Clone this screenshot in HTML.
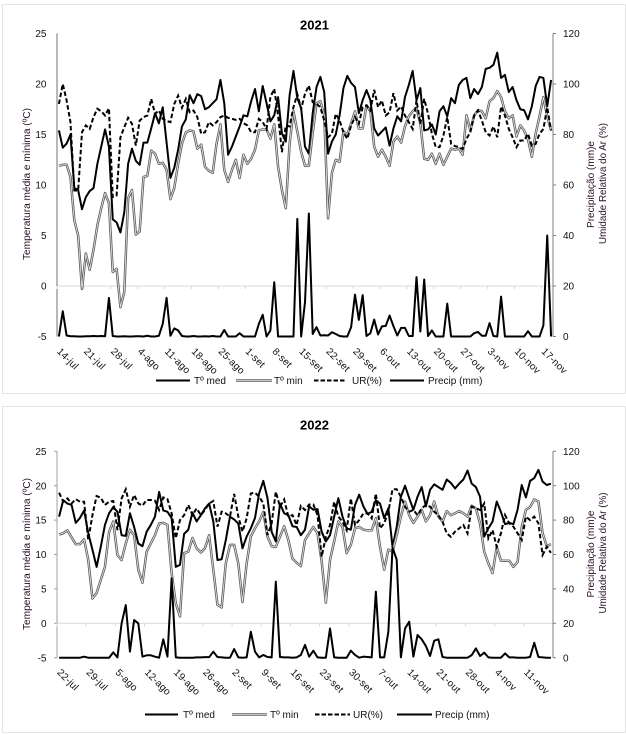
<!DOCTYPE html>
<html lang="pt">
<head>
<meta charset="utf-8">
<title>Temperatura, umidade e precipitação 2021 e 2022</title>
<style>
html,body{margin:0;padding:0;background:#fff;}
body{width:626px;height:734px;overflow:hidden;}
svg{display:block;font-family:"Liberation Sans",sans-serif;}
</style>
</head>
<body>
<svg id="root" xmlns="http://www.w3.org/2000/svg" width="626" height="734" viewBox="0 0 626 734">
  <rect x="2.5" y="4.5" width="623" height="389" fill="#fff" stroke="#e4e4e4" stroke-width="1"/>
  <rect x="2.5" y="406.5" width="623" height="326" fill="#fff" stroke="#e4e4e4" stroke-width="1"/>
  <g id="chart21"></g>
  <g id="chart22"></g>
</svg>
<script>
const leftTicks = [25, 20, 15, 10, 5, 0, -5];
const rightTicks = [120, 100, 80, 60, 40, 20, 0];

const dateLabels21 = ["14-jul","21-jul","28-jul","4-ago","11-ago","18-ago","25-ago","1-set","8-set","15-set","22-set","29-set","6-out","13-out","20-out","27-out","3-nov","10-nov","17-nov"];
const tmed21 = [15.4,13.7,14.1,15,9.7,9.5,7.6,8.8,9.4,9.7,12.1,13.8,15.5,13.8,6.6,6.3,5.3,7.3,12.1,13.6,12.4,12,14.2,14.2,15.6,17.1,16.1,17.7,14.2,10.7,11.7,13.5,15.8,16.5,18.9,18.1,19,18.8,17.5,17.7,18.1,18.5,20.4,18.1,13,13.8,14.8,15.8,16.9,16.8,18.3,19.5,17.3,19.8,18.1,16.3,16.9,18.7,15.1,14.3,18.9,21.3,18.6,17.6,13.8,13.1,17.1,19.7,20.7,19.2,13.1,14.3,15,16.9,19.6,20.8,20.1,19.7,17.1,18.4,19.4,18.4,15.6,14.9,15.3,15.7,13.9,15.6,16.8,16.3,18.7,19.9,21.3,18.4,19.6,15.4,15.5,16,15,17.3,17.8,16.8,18.6,18.1,19.9,20.4,20.6,18.6,19.5,19,19.7,21.5,21.6,21.9,23.1,20.6,20.9,19.2,19.7,18.4,17.5,17.4,16.5,17.8,19.8,20.7,20.6,17.8,20.4];
const tmin21 = [11.9,12,12,10.8,6.5,5,-0.3,3.2,1.6,3.6,6,7.7,9.2,8.2,1.4,1.7,-2.1,-0.6,8.7,9.5,5.1,5.4,10.8,10.9,13.4,13.1,12.1,12.2,11.5,8.6,9.7,12.1,14.1,15.2,15.4,15.3,13.6,14,11.8,11.4,11.2,14.1,16,11.5,10.3,11.5,12.5,10.7,13,12.1,12.6,13.5,15.4,15.5,15.5,14.6,16,11.8,9.5,7.7,14.1,17.3,15.3,13.3,11.9,11.9,15.1,18.1,18.3,16.9,6.7,11.2,12.5,12.3,15.3,15,16.1,17.3,15.6,15.6,17.9,17.3,13.8,12.8,13.5,12.8,11.9,14.3,14.8,14.2,15.8,16.8,17.3,17.6,16.1,12.6,12.5,13.1,12.1,13.1,12,12.8,13.6,13.5,13.6,13,16.9,15.4,16.9,17.4,17.3,16.6,18.3,18.6,19.3,18.7,17.3,16.6,16.9,14.8,15.9,15.4,14.5,12.8,15.1,16.8,18.7,16.8,15.4];
const ur21 = [92.1,100,93.5,84.9,57.8,57.8,80.9,83.6,82.2,86.9,90.2,89.2,87.5,90.4,55.2,55.8,78.9,82.9,86.6,84.2,75.6,85.5,86.9,87.5,94.1,88.2,89.5,86.2,85.3,84.9,92.1,95.4,90.6,94.1,88.8,89.5,86.9,80.3,80.9,84.9,83.6,84.9,86.9,87.5,86.6,86.2,85.8,86.2,84.5,83.6,80.9,80.9,86.2,84.9,82.2,94.8,98.1,87.5,73,83.6,83.2,90.8,96,90.2,96.1,99.4,92.8,92.1,90.8,85.5,78.9,80.3,88.2,85.5,80.9,78.3,83.6,86.9,84.2,90.8,91.5,89.5,97.7,90.8,93.5,87.5,88.8,96.4,89.5,91.1,87.5,84.9,82.2,93.5,84.2,94.1,88.2,80.3,75,75,79.6,86.9,76.3,75.4,75,74.3,78.3,80.9,87.5,89.5,85.5,80.9,79.6,83.2,78.9,91.1,87.5,82.2,78.9,75,77.6,77.6,80.3,75.6,76.3,80.3,82.2,90.8,81.6];
const precip21 = [0,10,0.4,0.1,0.1,0,0,0.1,0.1,0.2,0.1,0.2,0.1,15.3,0.2,0,0,0.1,0,0,0.1,0.1,0,0.3,0,0,0.3,5,15.3,0.3,3.2,2.4,0.2,0,0,0.2,0,0,0.1,0,0.2,0,0,2.6,0,0,0,1.3,0,0,0,0,5,8.6,0,2.4,21.5,0,0,0,0,0,46.6,0,13.6,48.7,1,3.7,0.4,0.5,0.4,1.7,1,0.2,0,0,3.7,16.6,6.6,16.4,0.2,1.3,6.7,0.8,4,4.2,8.3,4.1,0.4,3.4,3.4,0.2,0.2,23.5,2,22.6,0.2,2.4,0,0,0,13,0,0,0,0,0,0,1.3,1.8,0.3,0.3,5.3,0.2,0,15.8,0,0,0,0,0,0,2.1,0,0,0,4.4,40,0];

const dateLabels22 = ["22-jul","29-jul","5-ago","12-ago","19-ago","26-ago","2-set","9-set","16-set","23-set","30-set","7-out","14-out","21-out","28-out","4-nov","11-nov"];
const tmed22 = [15.5,17.9,17.4,17.2,14.6,15.3,16.4,13.1,10.7,8.2,11.1,14.3,16,16.9,16.2,12.8,12.7,16,14,11.6,11.2,13.3,14.3,15.5,19.1,16.4,16.2,15.3,8.2,8.5,13,13.6,16.1,14.8,15.7,16.7,17.4,14.8,9.2,9.3,12.1,15.5,15.1,14.5,10.9,12.6,13.8,15.3,18.9,20.7,18.2,13.3,11.9,17.4,16,15.7,14.1,14,12.8,13.6,17,16.5,16.6,13.3,11.9,12.8,15.5,18.2,15.5,13.8,13.6,17.2,18.7,17,15.9,16.2,17.9,17.4,15.3,16.7,11.1,14,18.4,20,18.2,16.5,18.4,19.8,17,19.4,20.2,19.8,19.4,20.9,20.4,19.6,20.3,20.9,22.2,20.3,19.8,18.4,12.6,13.8,14.8,17.7,16.2,14.4,14.6,14.4,16.5,20.1,18.3,20.7,21.1,22.3,20.6,20.1,20.3];
const tmin22 = [12.9,13.1,13.5,12.5,11.5,11.5,12.2,9.2,3.6,4.4,6.3,8.2,13.3,14.8,9.9,9.2,11.6,13.6,12.8,7.8,5.9,10.4,11.6,12.8,14.5,14.6,14.3,7.3,2.9,1,10.2,10.4,12.4,10.9,10.3,10.9,12.8,7.8,2.7,2.3,8.7,11.4,11.4,8.7,3.1,8.7,12.6,13.8,14.8,16.2,12.6,11.2,11.1,12.6,14.1,12.1,9.4,8.8,8.3,12.1,13.1,14,13.1,9,3,9.2,11.9,14.8,14,10.2,11.4,13.8,14,13.6,13.5,13.5,15.3,11.1,7.8,10.7,10.4,12.8,15.5,17.7,15.7,14.6,15.5,16.5,14.8,15.7,17.7,15.5,14.8,16.3,15.7,16,16.3,16,15.5,17.1,16.7,14.5,10.4,8.7,7.3,11.1,9.1,9.1,9.1,8.2,8.9,14,16.5,16.9,18,17.7,13.1,11.2,11.5];
const ur22 = [95.9,90.7,92.6,89.7,92.2,90.7,90.7,68.4,82.9,94,93,88.8,90.7,91.1,74.2,92.6,97.9,87.8,94.6,89.7,88.4,91.7,91.7,91.3,85.9,93.2,92.2,83.9,69.4,80,82.9,88.8,82.9,86.8,82.9,85.9,89.7,91.1,76.2,84.9,83.9,82,95.2,82,73.3,81,95.5,95.9,93.6,89.7,71.3,78.1,96.5,87.8,92,82,82.9,77.1,88.2,85.9,89.1,89.1,82.9,58.7,70.3,77.1,90.7,82,79.1,74.2,92.6,77.1,80,83.9,83.9,81,95.5,75.2,78.1,84.9,97.9,97.9,93.6,87.8,84.9,85.9,82.9,86.8,88.8,87.8,84.9,82.9,79.1,72.3,70.3,73.3,75.2,77.1,72.3,87.8,86.8,85.9,89.7,69.4,74.2,64.5,72.3,82.9,78.1,76.2,72.3,68.4,82,80,82,78.1,59.7,64.5,61];
const precip22 = [0,0,0,0,0,0,0.6,0,0,0,0,0,0,3.1,0.2,20,30.6,3.5,21.9,20,0.6,1.4,1.4,0.6,0,10.7,0.6,46.1,0.2,0,0,0,0,0.2,0.2,0.3,0.3,3.5,0.4,0.2,0,0,5,0.2,0,0.2,15.1,3.5,0.2,1.6,0.4,0.2,44.2,0.4,0.2,0.2,0,0.2,1.6,7.4,0.6,4.1,0.2,0,0,17,0.2,0,0,0,4.1,1.6,0,0.6,0.4,0.2,38.4,0.2,0.2,15.1,64,57,0.2,17,20.9,0.6,13.2,10.7,6.8,1,9.9,10.7,0.4,0,0,0,0,0,0,1.5,5.4,1,2.9,0.2,0,0,0,2.5,0.2,0.2,0,0,0,0.4,8.7,0.4,0.2,0,0];

const NS = 'http://www.w3.org/2000/svg';
const TEXT_COLOR = '#111';
const TITLE_COLOR = '#2a1028';

function make(parent, tag, attrs, text) {
  const el = document.createElementNS(NS, tag);
  for (const k in attrs) el.setAttribute(k, attrs[k]);
  if (text !== undefined) el.textContent = text;
  parent.appendChild(el);
  return el;
}

function drawChart(g, geo, year, dates, tmed, tmin, ur, precip) {
  const n = tmed.length;
  const xAt = i => geo.x0 + (i + 0.5) * (geo.x1 - geo.x0) / n;
  const yTemp = v => geo.yBottom - (v + 5) / 30 * (geo.yBottom - geo.yTop);
  const yRight = v => geo.yBottom - v / 120 * (geo.yBottom - geo.yTop);
  const linePath = (vals, yFn) => vals.map((v, i) => (i ? 'L' : 'M') + xAt(i).toFixed(2) + ' ' + yFn(v).toFixed(2)).join('');

  const title = make(g, 'text', {x: 314.5, y: geo.titleY, 'text-anchor': 'middle', 'font-size': 13, 'font-weight': 'bold', fill: '#000'}, String(year));
  
  

  const zeroAxis = make(g, 'line', {x1: geo.x0, x2: geo.x1, y1: yTemp(0), y2: yTemp(0), stroke: '#d9d9d9', 'stroke-width': 1});
  
  

  const leftAxis = make(g, 'line', {x1: geo.x0, x2: geo.x0, y1: geo.yTop, y2: geo.yBottom, stroke: geo.leftColor, 'stroke-width': 1});
  
  

  const rightAxis = make(g, 'line', {x1: geo.x1, x2: geo.x1, y1: geo.yTop, y2: geo.yBottom, stroke: '#808080', 'stroke-width': 1});
  
  

  leftTicks.forEach(t => {
    const y = yTemp(t);
    if (geo.leftTickLen) {
      const mark = make(g, 'line', {x1: geo.x0 - geo.leftTickLen, x2: geo.x0, y1: y, y2: y, stroke: geo.leftColor, 'stroke-width': 1});
      
      
    }
    const lab = make(g, 'text', {x: 46.5, y: y + 3.6, 'text-anchor': 'end', 'font-size': 10, fill: TEXT_COLOR}, String(t));
    
    
  });

  rightTicks.forEach(t => {
    const y = yRight(t);
    const mark = make(g, 'line', {x1: geo.x1, x2: geo.x1 + 3, y1: y, y2: y, stroke: '#808080', 'stroke-width': 1});
    
    
    const lab = make(g, 'text', {x: 563, y: y + 3.6, 'font-size': 10, fill: TEXT_COLOR}, String(t));
    
    
  });

  dates.forEach((d, k) => {
    const i = k * 7;
    const tickX = geo.x0 + k * 7 * (geo.x1 - geo.x0) / n;
    const mark = make(g, 'line', {x1: tickX, x2: tickX, y1: yTemp(0), y2: yTemp(0) + 3, stroke: '#d9d9d9', 'stroke-width': 1});
    
    
    const lx = xAt(i) - 2.5;
    const lab = make(g, 'text', {x: lx, y: geo.labelY, 'font-size': 10, fill: TEXT_COLOR, 'letter-spacing': '0.2', transform: 'rotate(45 ' + lx + ' ' + geo.labelY + ')'}, d);
    
    
  });

  const tmed_ = make(g, 'path', {d: linePath(tmed, yTemp), fill: 'none', stroke: '#000', 'stroke-width': 2, 'stroke-linejoin': 'round'});
  
  

  const tminOuter = make(g, 'path', {d: linePath(tmin, yTemp), fill: 'none', stroke: '#5e5e5e', 'stroke-width': 2.5, 'stroke-linejoin': 'round'});
  
  

  const tminInner = make(g, 'path', {d: linePath(tmin, yTemp), fill: 'none', stroke: '#e8e8e8', 'stroke-width': 0.8, 'stroke-linejoin': 'round'});
  
  

  const urLine = make(g, 'path', {d: linePath(ur, yRight), fill: 'none', stroke: '#000', 'stroke-width': 2, 'stroke-dasharray': '4.5 2.5'});
  
  

  const precipLine = make(g, 'path', {d: linePath(precip, yRight), fill: 'none', stroke: '#000', 'stroke-width': 2, 'stroke-linejoin': 'round'});
  
  

  const cy = (geo.titleYAxisTop + geo.titleYAxisBottom) / 2;
  const leftTitle = make(g, 'text', {x: 0, y: 0, transform: 'translate(30 ' + cy + ') rotate(-90)', 'text-anchor': 'middle', 'font-size': 10.5, fill: TITLE_COLOR, textLength: geo.leftTitleLen, lengthAdjust: 'spacingAndGlyphs'}, 'Temperatura média e mínima (ºC)');
  
  

  const rt1 = make(g, 'text', {x: 0, y: 0, transform: 'translate(594 ' + geo.precipTitleCy + ') rotate(-90)', 'text-anchor': 'middle', 'font-size': 10.5, fill: TITLE_COLOR, textLength: 87, lengthAdjust: 'spacingAndGlyphs'}, 'Precipitação (mm)e');
  
  

  const rt2 = make(g, 'text', {x: 0, y: 0, transform: 'translate(606 ' + geo.urTitleCy + ') rotate(-90)', 'text-anchor': 'middle', 'font-size': 10.5, fill: TITLE_COLOR, textLength: 121, lengthAdjust: 'spacingAndGlyphs'}, 'Umidade Relativa do Ar (%)');
  
  

  const ly = geo.legendY;
  const l = geo.legend;
  const k1 = make(g, 'line', {x1: l[0], x2: l[1], y1: ly, y2: ly, stroke: '#000', 'stroke-width': 2});
  
  
  const t1 = make(g, 'text', {x: l[2], y: ly + 3.6, 'font-size': 10, fill: TEXT_COLOR}, 'Tº med');
  
  

  const k2 = make(g, 'line', {x1: l[3], x2: l[4], y1: ly, y2: ly, stroke: '#5e5e5e', 'stroke-width': 2.5});
  
  
  const k2b = make(g, 'line', {x1: l[3], x2: l[4], y1: ly, y2: ly, stroke: '#e8e8e8', 'stroke-width': 0.8});
  
  
  const t2 = make(g, 'text', {x: l[5], y: ly + 3.6, 'font-size': 10, fill: TEXT_COLOR}, 'Tº min');
  
  

  const k3 = make(g, 'line', {x1: l[6], x2: l[7], y1: ly, y2: ly, stroke: '#000', 'stroke-width': 2, 'stroke-dasharray': '4.5 2'});
  
  
  const t3 = make(g, 'text', {x: l[8], y: ly + 3.6, 'font-size': 10, fill: TEXT_COLOR}, 'UR(%)');
  
  

  const k4 = make(g, 'line', {x1: l[9], x2: l[10], y1: ly, y2: ly, stroke: '#000', 'stroke-width': 2});
  
  
  const t4 = make(g, 'text', {x: l[11], y: ly + 3.6, 'font-size': 10, fill: TEXT_COLOR}, 'Precip (mm)');
  
  
}

drawChart(document.getElementById('chart21'), {
  x0: 57, x1: 553, yTop: 33.5, yBottom: 336.5, titleY: 29.5, labelY: 352,
  leftColor: '#707070', leftTickLen: 0,
  titleYAxisTop: 108, titleYAxisBottom: 260, leftTitleLen: 152,
  precipTitleCy: 184.5, urTitleCy: 183.5,
  legendY: 380.5, legend: [156, 190, 194, 236, 272, 274, 314, 345, 352, 390, 424, 428]
}, 2021, dateLabels21, tmed21, tmin21, ur21, precip21);

drawChart(document.getElementById('chart22'), {
  x0: 57, x1: 553, yTop: 451.3, yBottom: 657.7, titleY: 429.5, labelY: 673,
  leftColor: '#a0a0a0', leftTickLen: 3,
  titleYAxisTop: 478, titleYAxisBottom: 630, leftTitleLen: 152,
  precipTitleCy: 554, urTitleCy: 553,
  legendY: 714.5, legend: [145, 178, 183, 232, 267, 270, 315, 350, 353, 397, 432, 435]
}, 2022, dateLabels22, tmed22, tmin22, ur22, precip22);
</script>
</body>
</html>
